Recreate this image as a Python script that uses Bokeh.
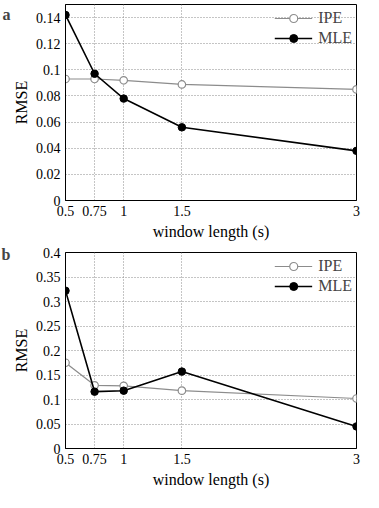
from bokeh.plotting import figure
from bokeh.models import Range1d, FixedTicker, Legend, LegendItem, Label
from bokeh.layouts import column
from bokeh.embed import file_html
from bokeh.resources import INLINE

window = [0.5, 0.75, 1, 1.5, 3]
x_tick_labels = ["0.5", "0.75", "1", "1.5", "3"]

ipe_a = [0.093, 0.093, 0.092, 0.0888, 0.085]
mle_a = [0.142, 0.097, 0.078, 0.056, 0.038]
y_ticks_a = [0, 0.02, 0.04, 0.06, 0.08, 0.1, 0.12, 0.14]
y_labels_a = ["0", "0.02", "0.04", "0.06", "0.08", "0.1", "0.12", "0.14"]

ipe_b = [0.175, 0.129, 0.128, 0.118, 0.102]
mle_b = [0.322, 0.116, 0.118, 0.157, 0.045]
y_ticks_b = [0, 0.05, 0.1, 0.15, 0.2, 0.25, 0.3, 0.35, 0.4]
y_labels_b = ["0", "0.05", "0.1", "0.15", "0.2", "0.25", "0.3", "0.35", "0.4"]

FONT = "Liberation Serif"


def make(ipe, mle, yticks, ylabels, ymax, tag, height, top, tag_y):
    p = figure(width=363, height=height, output_backend="svg", toolbar_location=None,
               x_range=Range1d(0.5, 3), y_range=Range1d(0, ymax),
               min_border_top=top, min_border_right=7, min_border_bottom=4,
               min_border_left=0)
    p.xaxis.ticker = FixedTicker(ticks=window)
    p.xaxis.major_label_overrides = {t: l for t, l in zip(window, x_tick_labels)}
    p.yaxis.ticker = FixedTicker(ticks=yticks)
    p.yaxis.major_label_overrides = {t: l for t, l in zip(yticks, ylabels)}
    for ax in (p.xaxis, p.yaxis):
        ax.major_label_text_font = FONT
        ax.major_label_text_font_size = "14px"
        ax.major_label_text_color = "black"
        ax.axis_label_text_font = FONT
        ax.axis_label_text_font_size = "16px"
        ax.axis_label_text_font_style = "normal"
        ax.axis_label_text_color = "black"
        ax.major_tick_in = 0
        ax.major_tick_out = 0
        ax.minor_tick_line_color = None
        ax.axis_line_color = "black"
    p.xaxis.axis_label = "window length (s)"
    p.yaxis.axis_label = "RMSE"
    p.xaxis.axis_label_standoff = 4
    p.yaxis.axis_label_standoff = 3
    p.xaxis.major_label_standoff = 5
    p.yaxis.major_label_standoff = 5
    p.grid.grid_line_color = "#8a8a8a"
    p.grid.grid_line_dash = "1 2"
    p.grid.grid_line_width = 1
    p.outline_line_color = "black"
    p.outline_line_width = 1
    p.background_fill_color = "white"

    l1 = p.line(window, ipe, line_color="#8c8c8c", line_width=1.2)
    s1 = p.scatter(window, ipe, size=7.5, marker="circle", line_color="#8c8c8c",
                   fill_color="white", line_width=1.2)
    l2 = p.line(window, mle, line_color="black", line_width=1.6)
    s2 = p.scatter(window, mle, size=7.5, marker="circle", line_color="black",
                   fill_color="black")
    leg = Legend(items=[LegendItem(label="IPE", renderers=[l1, s1]),
                        LegendItem(label="MLE", renderers=[l2, s2])],
                 location="top_right", border_line_color=None,
                 background_fill_alpha=0, label_text_font=FONT,
                 label_text_font_size="16px", glyph_width=38, spacing=-2,
                 padding=2, margin=4, label_standoff=6)
    p.add_layout(leg)
    p.add_layout(Label(x=1, y=tag_y, text=tag,
                       x_units="screen", y_units="screen",
                       text_font=FONT, text_font_style="bold",
                       text_font_size="16px"), "left")
    return p


pa = make(ipe_a, mle_a, y_ticks_a, y_labels_a, 0.15, "a", 242, 4, 178)
pb = make(ipe_b, mle_b, y_ticks_b, y_labels_b, 0.4, "b", 248, 10, 186)

lay = column(pa, pb, spacing=0)
open("out.html", "w").write(file_html(lay, INLINE))
